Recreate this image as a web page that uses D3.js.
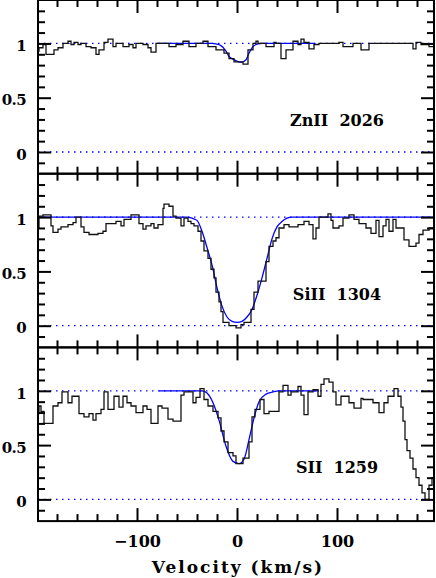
<!DOCTYPE html>
<html>
<head>
<meta charset="utf-8">
<script src="https://d3js.org/d3.v7.min.js"></script>
<style>
  html, body { margin: 0; padding: 0; background: #fff; }
  svg { display: block; }
  text { font-family: "DejaVu Serif", serif; font-weight: bold; fill: #000; }
</style>
</head>
<body>
<div id="chart"></div>
<script>
// tick values and labels
var velMajor = [-100, 0, 100];
var velLabels = ["\u2212100", "0", "100"];
var velMinor = [-180, -160, -140, -120, -80, -60, -40, -20, 20, 40, 60, 80, 120, 140, 160, 180];
var fluxMajor = [0, 0.5, 1];
var fluxLabels = ["0", "0.5", "1"];
var fluxMinor = [-0.1, 0.1, 0.2, 0.3, 0.4, 0.6, 0.7, 0.8, 0.9, 1.1, 1.2, 1.3];

var ions = ["ZnII  2026", "SiII  1304", "SII  1259"];

// ZnII 2026: observed spectrum (left bin edges, km/s) and normalised flux
var znEdges = [-199, -198, -194, -191, -183, -179, -174, -169, -166, -163, -159, -156, -151, -146, -141, -138, -133, -129, -124, -121,
    -114, -108, -104, -101, -94, -89, -86, -81, -68, -61, -54, -48, -41, -34, -29, -21, -13, -8, -3, 6,
    11, 16, 19, 21, 29, 37, 39, 44, 49, 56, 61, 64, 67, 72, 77, 82, 102, 106, 116, 124, 132, 176, 179, 184, 192];
var znFlux = [0.93, 0.96, 0.99, 0.90, 0.94, 0.96, 1.00, 1.02, 0.99, 1.01, 0.99, 1.00, 0.97, 0.96, 0.90, 0.94, 1.01, 1.04, 0.97, 1.00,
    0.97, 0.99, 0.96, 1.00, 0.99, 0.96, 0.92, 1.00, 0.97, 0.99, 1.02, 0.97, 1.00, 1.02, 0.97, 0.94, 0.91, 0.86, 0.83, 0.81,
    0.94, 1.00, 1.02, 1.00, 0.97, 1.01, 1.00, 0.86, 0.94, 1.02, 0.99, 1.04, 1.01, 0.95, 0.99, 1.00, 1.01, 0.97, 1.00, 0.94, 1.00, 0.95, 1.01, 0.99, 0.97];
// ZnII 2026: fitted profile
var znModelVel = [-80, -25, -21, -16, -11, -8, -3, 4, 9, 12, 16, 21, 25, 78];
var znModelFlux = [1.0, 1.0, 0.995, 0.98, 0.93, 0.88, 0.85, 0.825, 0.85, 0.91, 0.97, 0.995, 1.0, 1.0];

// SiII 1304
var siEdges = [-199, -198, -194, -186, -184, -179, -176, -169, -164, -161, -156, -153, -148, -139, -134, -131, -121, -116, -113, -106,
    -98, -94, -91, -86, -83, -79, -74, -73, -68, -64, -61, -56, -53, -49, -46, -43, -39, -36, -33, -29,
    -26, -23, -21, -18, -16, -14, -8, -1, 4, 7, 14, 17, 21, 29, 32, 36, 39, 42, 47, 52,
    61, 67, 72, 76, 79, 82, 91, 94, 96, 102, 106, 112, 117, 122, 129, 134, 139, 142, 146, 149,
    152, 156, 159, 167, 172, 179, 182, 186, 192];
var siFlux = [0.90, 1.01, 1.02, 0.92, 0.86, 0.89, 0.91, 0.93, 0.95, 1.00, 0.91, 0.86, 0.84, 0.85, 0.87, 0.94, 0.96, 0.92, 0.98, 1.02,
    0.94, 0.89, 0.92, 0.94, 0.90, 0.93, 1.08, 1.12, 1.10, 1.01, 0.99, 0.92, 0.99, 0.96, 0.94, 0.92, 0.87, 0.78, 0.69, 0.62,
    0.52, 0.44, 0.31, 0.22, 0.13, 0.03, 0.00, -0.02, 0.01, 0.03, 0.15, 0.31, 0.41, 0.59, 0.73, 0.78, 0.81, 0.90, 0.93, 0.91,
    0.93, 0.96, 0.93, 0.80, 0.90, 1.00, 1.03, 0.97, 0.90, 0.92, 0.99, 1.02, 0.98, 0.94, 0.90, 0.85, 0.97, 0.82, 0.92, 0.98,
    0.87, 0.98, 0.90, 0.79, 0.73, 0.76, 0.84, 0.88, 0.90];
var siModelVel = [-199, -50, -45, -40, -35, -30, -25, -20, -15, -10, -5, 0, 5, 10, 15, 20, 25, 30, 35, 40, 45, 50, 55, 197];
var siModelFlux = [1.0, 1.0, 0.99, 0.97, 0.87, 0.72, 0.56, 0.35, 0.18, 0.08, 0.04, 0.03, 0.04, 0.08, 0.15, 0.28, 0.44, 0.62, 0.80, 0.91, 0.96, 0.99, 1.0, 1.0];

// SII 1259
var sEdges = [-199, -198, -196, -193, -184, -179, -175, -169, -165, -158, -153, -148, -144, -141, -136, -133, -129, -123, -118, -114,
    -110, -106, -101, -94, -90, -86, -79, -75, -69, -64, -56, -53, -44, -41, -37, -33, -29, -24, -19, -16,
    -13, -9, -4, -1, 6, 12, 15, 18, 23, 27, 32, 42, 46, 51, 54, 61, 64, 67, 71, 76,
    81, 84, 87, 92, 96, 99, 104, 112, 117, 124, 126, 136, 142, 147, 151, 157, 161, 164, 166, 168,
    170, 173, 176, 179, 182, 185, 188, 192, 195];
var sFlux = [0.79, 0.86, 0.81, 0.70, 0.86, 0.89, 0.99, 0.89, 0.95, 0.79, 0.76, 0.79, 0.73, 0.79, 0.83, 0.99, 0.83, 0.95, 0.85, 0.95,
    0.89, 0.86, 0.80, 0.86, 0.83, 0.70, 0.86, 0.84, 0.74, 0.72, 0.96, 0.99, 0.89, 0.94, 1.02, 0.92, 0.86, 0.81, 0.75, 0.63,
    0.53, 0.43, 0.40, 0.33, 0.38, 0.53, 0.76, 0.83, 0.92, 0.79, 0.81, 0.99, 1.05, 0.96, 0.99, 1.04, 0.96, 0.78, 0.99, 1.01,
    0.95, 1.06, 1.11, 1.08, 0.99, 0.87, 0.95, 0.89, 0.84, 0.93, 0.92, 0.89, 0.80, 0.89, 0.95, 1.02, 0.95, 0.85, 0.72, 0.55,
    0.45, 0.38, 0.28, 0.20, 0.13, 0.06, 0.00, 0.13, 0.20];
var sModelVel = [-78, -35, -30, -24, -18, -11, -4, 2, 7, 12, 17, 22, 29, 36, 42, 82];
var sModelFlux = [1.0, 1.0, 0.98, 0.89, 0.73, 0.49, 0.35, 0.33, 0.37, 0.55, 0.75, 0.90, 0.97, 0.99, 1.0, 1.0];

var velEnd = 197; // right edge of last bin

var panels = [
    { label: ions[0], edges: znEdges, flux: znFlux, mv: znModelVel, mf: znModelFlux },
    { label: ions[1], edges: siEdges, flux: siFlux, mv: siModelVel, mf: siModelFlux },
    { label: ions[2], edges: sEdges, flux: sFlux, mv: sModelVel, mf: sModelFlux }
];

// layout
var width = 436, height = 578;
var left = 38, right = 434;
var ph = 173.7; // panel height

var svg = d3.select('#chart').append('svg')
    .attr('width', width)
    .attr('height', height);

var x = d3.scaleLinear().domain([-199, 197]).range([left, right]);

panels.forEach(function(p, i) {
    var top = i * ph;
    var y = d3.scaleLinear().domain([-0.2, 1.4]).range([top + ph, top]);
    var g = svg.append('g');

    g.append('clipPath').attr('id', 'clip' + i)
        .append('rect')
        .attr('x', left).attr('y', top)
        .attr('width', right - left).attr('height', ph);

    var inner = g.append('g').attr('clip-path', 'url(#clip' + i + ')');

    // reference levels (continuum and zero)
    [0, 1].forEach(function(lev) {
        inner.append('line')
            .attr('x1', left).attr('x2', right)
            .attr('y1', y(lev)).attr('y2', y(lev))
            .attr('stroke', '#0000ff')
            .attr('stroke-width', 1.3)
            .attr('stroke-dasharray', '1.5,4.5');
    });

    // model fit
    var model = p.mv.map(function(v, k) { return [v, p.mf[k]]; });
    inner.append('path')
        .datum(model)
        .attr('fill', 'none')
        .attr('stroke', '#0000ff')
        .attr('stroke-width', 1.3)
        .attr('d', d3.line()
            .x(function(d) { return x(d[0]); })
            .y(function(d) { return y(d[1]); })
            .curve(d3.curveMonotoneX));

    // data histogram
    var hist = p.edges.map(function(v, k) { return [v, p.flux[k]]; });
    hist.push([velEnd, p.flux[p.flux.length - 1]]);
    inner.append('path')
        .datum(hist)
        .attr('fill', 'none')
        .attr('stroke', '#111')
        .attr('stroke-width', 1.3)
        .attr('d', d3.line()
            .x(function(d) { return x(d[0]); })
            .y(function(d) { return y(d[1]); })
            .curve(d3.curveStepAfter));

    // axes: ticks on all four sides, pointing inwards
    var last = (i === panels.length - 1);

    g.append('g').attr('class', 'ax ylab')
        .attr('transform', 'translate(' + left + ',0)')
        .call(d3.axisLeft(y).tickValues(fluxMajor).tickSize(-13).tickPadding(12)
            .tickFormat(function(d, k) { return fluxLabels[k]; }));
    g.append('g').attr('class', 'ax')
        .attr('transform', 'translate(' + left + ',0)')
        .call(d3.axisLeft(y).tickValues(fluxMinor).tickSize(-7).tickFormat(''));
    g.append('g').attr('class', 'ax')
        .attr('transform', 'translate(' + right + ',0)')
        .call(d3.axisRight(y).tickValues(fluxMajor).tickSize(-13).tickFormat(''));
    g.append('g').attr('class', 'ax')
        .attr('transform', 'translate(' + right + ',0)')
        .call(d3.axisRight(y).tickValues(fluxMinor).tickSize(-7).tickFormat(''));

    g.append('g').attr('class', 'ax')
        .attr('transform', 'translate(0,' + top + ')')
        .call(d3.axisTop(x).tickValues(velMajor).tickSize(-13).tickFormat(''));
    g.append('g').attr('class', 'ax')
        .attr('transform', 'translate(0,' + top + ')')
        .call(d3.axisTop(x).tickValues(velMinor).tickSize(-7).tickFormat(''));
    g.append('g').attr('class', 'ax')
        .attr('transform', 'translate(0,' + (top + ph) + ')')
        .call(d3.axisBottom(x).tickValues(velMajor).tickSize(-13).tickPadding(15)
            .tickFormat(function(d, k) { return last ? velLabels[k] : ''; }));
    g.append('g').attr('class', 'ax')
        .attr('transform', 'translate(0,' + (top + ph) + ')')
        .call(d3.axisBottom(x).tickValues(velMinor).tickSize(-7).tickFormat(''));

    // frame
    g.append('rect')
        .attr('x', left).attr('y', top)
        .attr('width', right - left).attr('height', ph)
        .attr('fill', 'none')
        .attr('stroke', '#000')
        .attr('stroke-width', 2);

    // ion label
    g.append('text')
        .attr('x', x(100))
        .attr('y', y(0.24))
        .attr('text-anchor', 'middle')
        .style('font-size', '16px')
        .style('white-space', 'pre')
        .text(p.label);
});

// clean up axis styling
svg.selectAll('.ax .domain').remove();
svg.selectAll('.ax line').attr('stroke', '#000').attr('stroke-width', 2);
svg.selectAll('.ax text')
    .attr('font-family', null)
    .attr('font-size', null)
    .style('font-size', '16px');
// y labels: a touch smaller and tighter so "0.5" fits left of the frame
svg.selectAll('.ylab text')
    .attr('dy', '0.48em')
    .style('font-size', '15px')
    .style('letter-spacing', '-0.6px');

// x-axis title
svg.append('text')
    .attr('x', 238)
    .attr('y', 572.5)
    .attr('text-anchor', 'middle')
    .style('font-size', '17px')
    .style('letter-spacing', '2px')
    .text('Velocity (km/s)');
</script>
</body>
</html>
